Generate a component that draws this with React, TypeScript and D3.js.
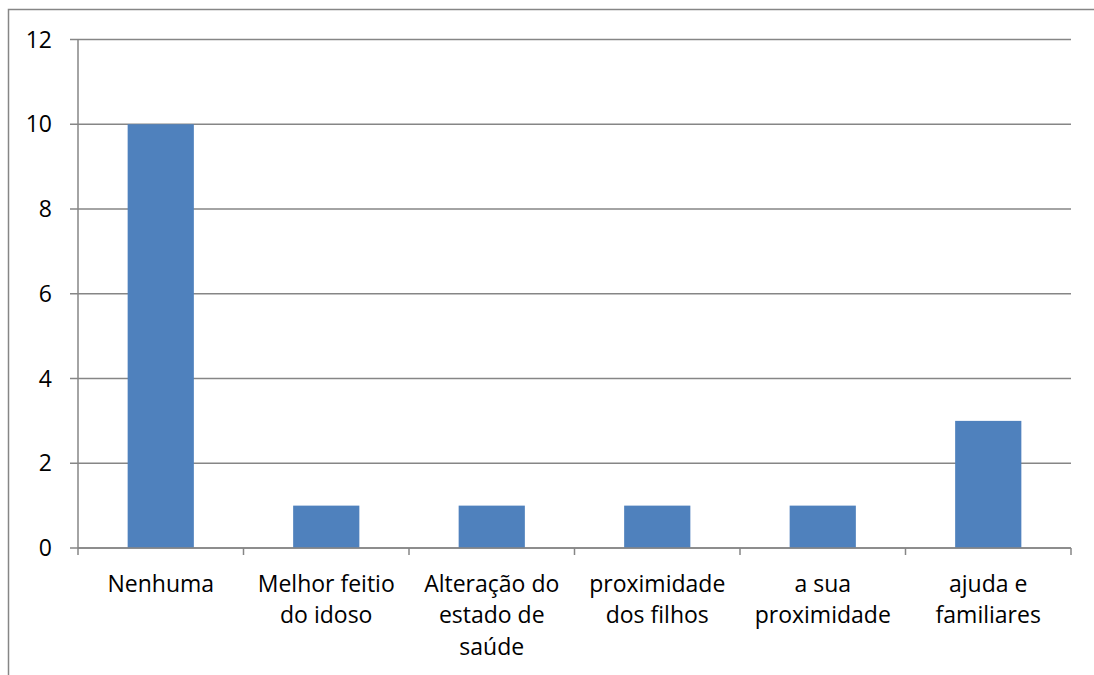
import { scaleBand, scaleLinear } from "d3";

const categories = [
  "Nenhuma",
  "Melhor feitio do idoso",
  "Alteração do estado de saúde",
  "proximidade dos filhos",
  "a sua proximidade",
  "ajuda e familiares",
];
const labelLines = [
  ["Nenhuma"],
  ["Melhor feitio", "do idoso"],
  ["Alteração do", "estado de", "saúde"],
  ["proximidade", "dos filhos"],
  ["a sua", "proximidade"],
  ["ajuda e", "familiares"],
];
const values = [10, 1, 1, 1, 1, 3];
const yTicks = [0, 2, 4, 6, 8, 10, 12];

const App = () => {
  const width = 1094;
  const height = 675;
  const left = 78;
  const right = 1071;
  const top = 39.5;
  const bottom = 548;
  const grey = "#868686";
  const font = "'Open Sans', sans-serif";

  const x = scaleBand<string>()
    .domain(categories)
    .range([left, right])
    .paddingInner(0.6)
    .paddingOuter(0.3);
  const y = scaleLinear().domain([0, 12]).range([bottom, top]);
  const step = x.step();
  const start = (x(categories[0]) ?? 0) - step * 0.3;

  return (
    <svg
      width={width}
      height={height}
      style={{ position: "absolute", left: 0, top: 0, background: "#fff" }}
    >
      <rect x={8.5} y={9.5} width={1200} height={800} fill="#fff" stroke={grey} strokeWidth={1.5} />

      {yTicks.map((t) => (
        <g key={t}>
          <line x1={70} x2={right} y1={y(t)} y2={y(t)} stroke={grey} strokeWidth={1.5} />
          <text
            x={52}
            y={y(t)}
            dy="0.35em"
            textAnchor="end"
            fontFamily={font}
            fontSize={23}
            fill="#000"
          >
            {t}
          </text>
        </g>
      ))}

      {values.map((v, i) => (
        <rect
          key={categories[i]}
          x={x(categories[i])}
          y={y(v)}
          width={x.bandwidth()}
          height={y(0) - y(v)}
          fill="#4F81BD"
        />
      ))}

      <line x1={left} x2={left} y1={top} y2={bottom} stroke={grey} strokeWidth={1.5} />
      <line x1={left} x2={right} y1={bottom} y2={bottom} stroke={grey} strokeWidth={1.5} />
      {categories.map((c, i) => (
        <line
          key={"t" + c}
          x1={start + step * i}
          x2={start + step * i}
          y1={bottom}
          y2={bottom + 7}
          stroke={grey}
          strokeWidth={1.5}
        />
      ))}
      <line x1={right} x2={right} y1={bottom} y2={bottom + 7} stroke={grey} strokeWidth={1.5} />

      {labelLines.map((lines, i) => (
        <text
          key={"l" + i}
          x={(x(categories[i]) ?? 0) + x.bandwidth() / 2}
          y={591.5}
          textAnchor="middle"
          fontFamily={font}
          fontSize={23}
          fill="#000"
        >
          {lines.map((l, j) => (
            <tspan key={j} x={(x(categories[i]) ?? 0) + x.bandwidth() / 2} y={591.5 + j * 31.7}>
              {l}
            </tspan>
          ))}
        </text>
      ))}
    </svg>
  );
};

export default App;
